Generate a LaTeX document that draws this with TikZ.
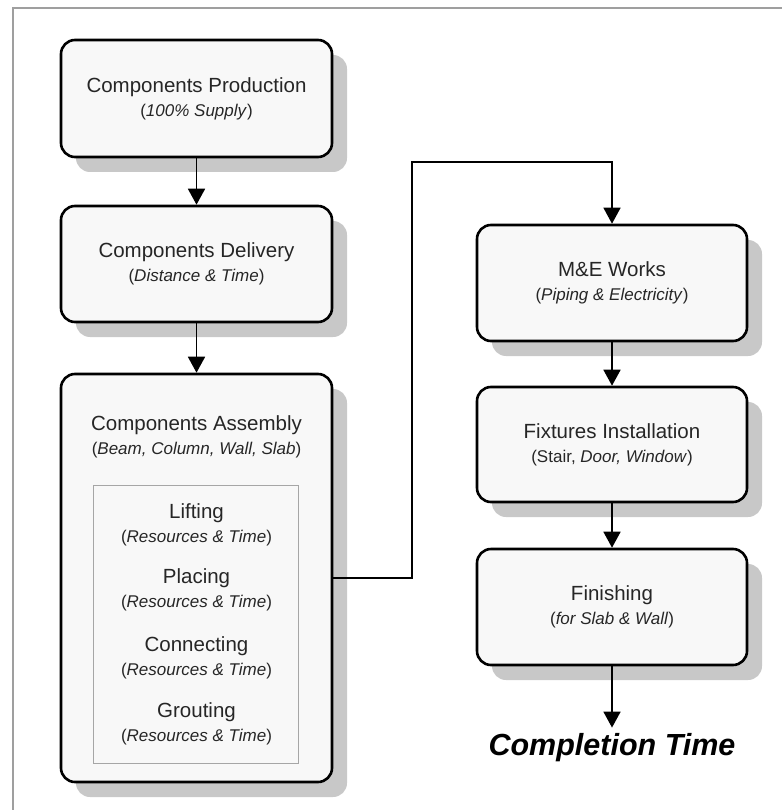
\documentclass[tikz,border=0pt]{standalone}
\usepackage{fontspec}
\setmainfont{Liberation Sans}
\usetikzlibrary{shadows,arrows.meta}
\definecolor{boxfill}{HTML}{F8F8F8}
\definecolor{shadowgray}{HTML}{C8C8C8}
\definecolor{txt}{HTML}{262626}
\tikzset{
  stage/.style={draw=black, line width=2.6pt, rounded corners=14pt, fill=boxfill,
    align=center, text=txt, inner sep=0pt,
    font=\fontsize{20.5}{24}\selectfont,
    drop shadow={shadow xshift=15pt, shadow yshift=-15pt, opacity=1, fill=shadowgray}},
  substeps/.style={draw=gray!70, line width=0.8pt, fill=boxfill, inner sep=0pt},
  steptext/.style={align=center, text=txt, font=\fontsize{20.5}{24}\selectfont, inner sep=0pt},
  flow/.style={line width=1.8pt, -{Triangle[width=17pt,length=16pt]}},
  link/.style={line width=1.5pt, -{Triangle[width=17pt,length=16pt]}},
  frameline/.style={draw=gray!75, line width=1.5pt}
}
\newcommand{\subline}[1]{{\fontsize{17}{24}\selectfont #1}}
\begin{document}
\begin{tikzpicture}[x=1pt,y=-1pt]
\useasboundingbox (0,0) rectangle (782,810);
\fill[white] (0,0) rectangle (782,810);
\draw[frameline] (13,810) -- (13,8) -- (782,8);

% left column
\node[stage, minimum width=271pt, minimum height=117pt] (prod) at (196.5,98.5)
  {Components Production\\ \subline{(\textit{100\% Supply})}};
\node[stage, minimum width=271pt, minimum height=116pt] (deliv) at (196.5,264)
  {Components Delivery\\ \subline{(\textit{Distance \& Time})}};
\node[stage, minimum width=271pt, minimum height=408pt] (assem) at (196.5,578) {};
\node[steptext] (assemtitle) at (196.5,437)
  {Components Assembly\\ \subline{(\textit{Beam, Column, Wall, Slab})}};
\node[substeps, minimum width=205pt, minimum height=278pt] (inner) at (195.5,624) {};
\node[steptext] (lift) at (196.5,525) {Lifting\\ \subline{(\textit{Resources \& Time})}};
\node[steptext] (place) at (196.5,590) {Placing\\ \subline{(\textit{Resources \& Time})}};
\node[steptext] (conn) at (196.5,658) {Connecting\\ \subline{(\textit{Resources \& Time})}};
\node[steptext] (grout) at (196.5,724) {Grouting\\ \subline{(\textit{Resources \& Time})}};

% right column
\node[stage, minimum width=270pt, minimum height=116pt] (me) at (612,283)
  {M\&E Works\\ \subline{(\textit{Piping \& Electricity})}};
\node[stage, minimum width=270pt, minimum height=115pt] (fix) at (612,444.5)
  {Fixtures Installation\\ \subline{(Stair, \textit{Door, Window})}};
\node[stage, minimum width=270pt, minimum height=116pt] (fin) at (612,607)
  {Finishing\\ \subline{(\textit{for Slab \& Wall})}};
\node[font=\fontsize{30.5}{34}\selectfont\bfseries\itshape, text=black, inner ysep=6pt] (done) at (612,748)
  {Completion Time};

% connectors
\coordinate (bend) at (412,162);
\draw[flow] (prod) -- (deliv);
\draw[flow] (deliv) -- (assem);
\draw[link] (assem.east) -| (bend) -| (me.north);
\draw[flow] (me) -- (fix);
\draw[flow] (fix) -- (fin);
\draw[flow] (fin) -- (done);
\end{tikzpicture}
\end{document}
